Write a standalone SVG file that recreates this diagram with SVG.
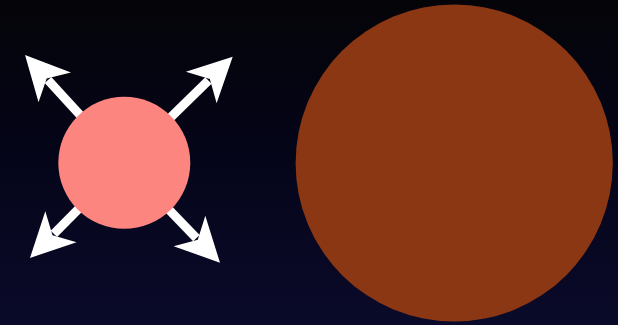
<svg xmlns="http://www.w3.org/2000/svg" width="618" height="325" viewBox="0 0 618 325">
  <defs>
    <linearGradient id="bg" x1="0" y1="0" x2="0" y2="1">
      <stop offset="0" stop-color="#040408"/>
      <stop offset="0.5" stop-color="#05051a"/>
      <stop offset="1" stop-color="#0a0a2a"/>
    </linearGradient>
    <marker id="head" markerUnits="userSpaceOnUse" markerWidth="60" markerHeight="60" viewBox="-15 -30 60 60" refX="0" refY="0" orient="auto" overflow="visible">
      <path d="M34,0 L-10,-22 L2,0 L-10,22 Z" fill="#ffffff"/>
    </marker>
    <style>
      .arrow { stroke: #ffffff; stroke-width: 9; fill: none; marker-end: url(#head); }
    </style>
  </defs>
  <rect x="0" y="0" width="618" height="325" fill="url(#bg)"/>
  <g id="connectors">
    <line class="arrow" x1="124" y1="163" x2="48" y2="80"/>
    <line class="arrow" x1="124" y1="163" x2="208.4" y2="80.5"/>
    <line class="arrow" x1="124" y1="163" x2="53.9" y2="233.8"/>
    <line class="arrow" x1="124" y1="163" x2="196.4" y2="238.2"/>
  </g>
  <g id="small-circle">
    <circle cx="124.3" cy="162.8" r="66" fill="#fd8580"/>
  </g>
  <g id="large-circle">
    <circle cx="454.2" cy="163" r="158.6" fill="#8b3714"/>
  </g>
</svg>
